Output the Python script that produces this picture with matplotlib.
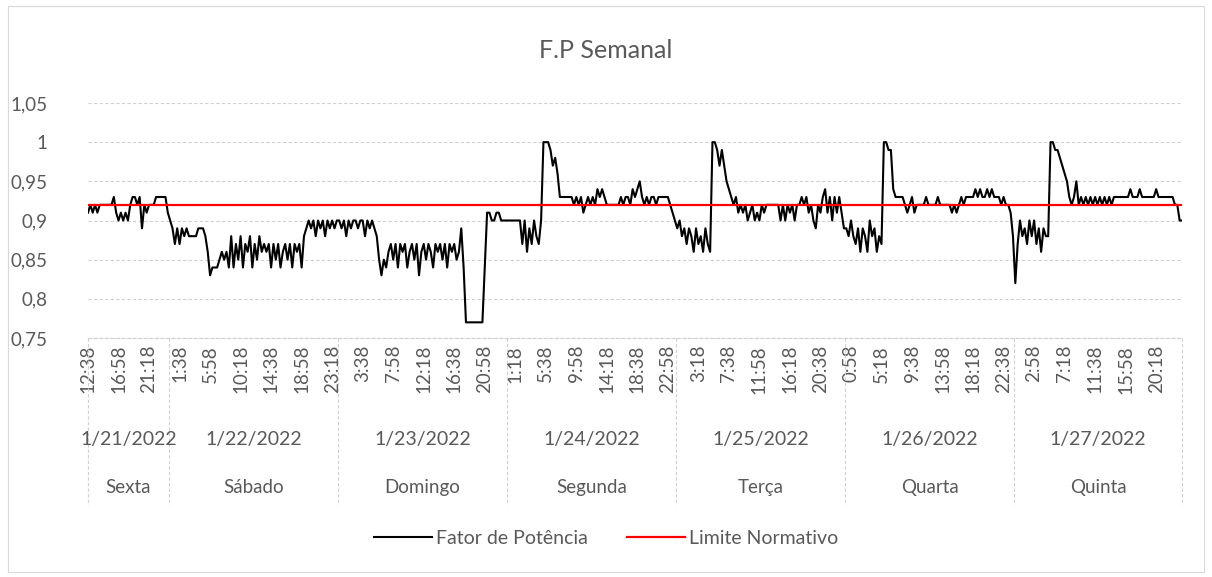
import matplotlib
matplotlib.use("Agg")
import matplotlib.pyplot as plt
import matplotlib.transforms as mtransforms
import numpy as np

plt.rcParams["font.family"] = ["Lato", "DejaVu Sans"]

# Fator de potencia, leituras a cada 20 min
fp_sexta = [0.91, 0.92, 0.91, 0.92, 0.91, 0.92, 0.92, 0.92, 0.92, 0.92,
            0.92, 0.93, 0.91, 0.90, 0.91, 0.90, 0.91, 0.90, 0.92, 0.93,
            0.93, 0.92, 0.93, 0.89, 0.92, 0.91, 0.92, 0.92, 0.92, 0.93,
            0.93, 0.93, 0.93, 0.93, 0.91]
fp_sabado = [0.90, 0.89, 0.87, 0.89, 0.87, 0.89, 0.88, 0.89, 0.88, 0.88,
             0.88, 0.88, 0.89, 0.89, 0.89, 0.88, 0.86, 0.83, 0.84, 0.84,
             0.84, 0.85, 0.86, 0.85, 0.86, 0.84, 0.88, 0.84, 0.87, 0.85,
             0.88, 0.84, 0.87, 0.86, 0.88, 0.84, 0.87, 0.85, 0.88, 0.86,
             0.87, 0.86, 0.87, 0.84, 0.87, 0.85, 0.87, 0.84, 0.86, 0.87,
             0.85, 0.87, 0.84, 0.87, 0.86, 0.87, 0.84, 0.88, 0.89, 0.90,
             0.89, 0.90, 0.88, 0.90, 0.89, 0.90, 0.88, 0.90, 0.89, 0.90,
             0.89, 0.90]
fp_domingo = [0.90, 0.89, 0.90, 0.88, 0.90, 0.89, 0.90, 0.90, 0.89, 0.90,
              0.90, 0.88, 0.90, 0.89, 0.90, 0.89, 0.88, 0.85, 0.83, 0.85,
              0.84, 0.86, 0.87, 0.85, 0.87, 0.84, 0.87, 0.86, 0.87, 0.84,
              0.86, 0.87, 0.85, 0.87, 0.83, 0.86, 0.87, 0.85, 0.87, 0.86,
              0.84, 0.87, 0.86, 0.87, 0.85, 0.87, 0.84, 0.87, 0.86, 0.87,
              0.85, 0.86, 0.89, 0.84, 0.77, 0.77, 0.77, 0.77, 0.77, 0.77,
              0.77, 0.77, 0.84, 0.91, 0.91, 0.90, 0.90, 0.91, 0.91, 0.90,
              0.90, 0.90]
fp_segunda = [0.90, 0.90, 0.90, 0.90, 0.90, 0.90, 0.87, 0.90, 0.86, 0.89,
              0.87, 0.90, 0.88, 0.87, 0.90, 1.00, 1.00, 1.00, 0.99, 0.97,
              0.98, 0.96, 0.93, 0.93, 0.93, 0.93, 0.93, 0.93, 0.92, 0.93,
              0.92, 0.93, 0.91, 0.92, 0.93, 0.92, 0.93, 0.92, 0.94, 0.93,
              0.94, 0.93, 0.92, 0.92, 0.92, 0.92, 0.92, 0.92, 0.93, 0.92,
              0.93, 0.93, 0.92, 0.94, 0.93, 0.94, 0.95, 0.93, 0.92, 0.93,
              0.92, 0.93, 0.93, 0.92, 0.93, 0.93, 0.93, 0.93, 0.93, 0.92,
              0.91, 0.90]
fp_terca = [0.89, 0.90, 0.88, 0.89, 0.87, 0.89, 0.88, 0.86, 0.89, 0.87,
            0.88, 0.86, 0.89, 0.87, 0.86, 1.00, 1.00, 0.99, 0.97, 0.99,
            0.97, 0.95, 0.94, 0.93, 0.92, 0.93, 0.91, 0.92, 0.91, 0.92,
            0.90, 0.91, 0.92, 0.90, 0.91, 0.90, 0.92, 0.91, 0.92, 0.92,
            0.92, 0.92, 0.92, 0.92, 0.90, 0.92, 0.90, 0.92, 0.91, 0.92,
            0.90, 0.92, 0.92, 0.93, 0.92, 0.93, 0.91, 0.92, 0.90, 0.89,
            0.92, 0.91, 0.93, 0.94, 0.91, 0.93, 0.90, 0.93, 0.91, 0.93,
            0.91, 0.89]
fp_quarta = [0.89, 0.88, 0.90, 0.88, 0.87, 0.89, 0.86, 0.89, 0.88, 0.86,
             0.90, 0.88, 0.89, 0.86, 0.88, 0.87, 1.00, 1.00, 0.99, 0.99,
             0.94, 0.93, 0.93, 0.93, 0.93, 0.92, 0.91, 0.92, 0.93, 0.91,
             0.92, 0.92, 0.92, 0.92, 0.93, 0.92, 0.92, 0.92, 0.92, 0.93,
             0.92, 0.92, 0.92, 0.92, 0.92, 0.91, 0.92, 0.91, 0.92, 0.93,
             0.92, 0.93, 0.93, 0.93, 0.93, 0.94, 0.93, 0.94, 0.93, 0.93,
             0.94, 0.93, 0.94, 0.93, 0.93, 0.93, 0.92, 0.93, 0.92, 0.92,
             0.91, 0.88]
fp_quinta = [0.82, 0.87, 0.90, 0.88, 0.89, 0.87, 0.90, 0.88, 0.90, 0.87,
             0.89, 0.86, 0.89, 0.88, 0.88, 1.00, 1.00, 0.99, 0.99, 0.98,
             0.97, 0.96, 0.95, 0.93, 0.92, 0.93, 0.95, 0.92, 0.93, 0.92,
             0.93, 0.92, 0.93, 0.92, 0.93, 0.92, 0.93, 0.92, 0.93, 0.92,
             0.93, 0.92, 0.93, 0.93, 0.93, 0.93, 0.93, 0.93, 0.93, 0.94,
             0.93, 0.93, 0.93, 0.94, 0.93, 0.93, 0.93, 0.93, 0.93, 0.93,
             0.94, 0.93, 0.93, 0.93, 0.93, 0.93, 0.93, 0.93, 0.92, 0.92,
             0.90, 0.90]
limite = 0.92

datas = ["1/21/2022", "1/22/2022", "1/23/2022", "1/24/2022",
         "1/25/2022", "1/26/2022", "1/27/2022"]
dias = ["Sexta", "Sábado", "Domingo", "Segunda", "Terça", "Quarta", "Quinta"]
horas = ["12:38", "16:58", "21:18",
         "1:38", "5:58", "10:18", "14:38", "18:58", "23:18",
         "3:38", "7:58", "12:18", "16:38", "20:58",
         "1:18", "5:38", "9:58", "14:18", "18:38", "22:58",
         "3:18", "7:38", "11:58", "16:18", "20:38",
         "0:58", "5:18", "9:38", "13:58", "18:18", "22:38",
         "2:58", "7:18", "11:38", "15:58", "20:18"]
passo_rotulo = 13  # um rotulo a cada 13 leituras

series = [fp_sexta, fp_sabado, fp_domingo, fp_segunda, fp_terca, fp_quarta, fp_quinta]
fp = np.concatenate(series)
x = np.arange(len(fp))
n = len(fp)

cinza = "#595959"
grade = "#d0d0d0"

fig = plt.figure(figsize=(12.12, 5.77), dpi=100)
ax = fig.add_axes([88/1212, 1-338/577, (1182-88)/1212, 235/577])

ax.plot(x, fp, color="black", lw=1.5, label="Fator de Potência", zorder=3)
ax.plot(x, [limite]*n, color="#ff0000", lw=1.6, label="Limite Normativo", zorder=4)

ax.set_xlim(0, n-1)
ax.set_ylim(0.75, 1.05)
yt = np.arange(0.75, 1.051, 0.05)
ax.set_yticks(yt)
ax.set_yticklabels([("%g" % round(v, 2)).replace(".", ",") for v in yt])
ax.grid(axis="y", color=grade, lw=0.8, ls=(0, (3, 2)))
ax.set_axisbelow(True)
for s in ["top", "right", "left"]:
    ax.spines[s].set_visible(False)
ax.spines["bottom"].set_color(grade)
ax.spines["bottom"].set_linestyle((0, (3, 2)))
ax.tick_params(axis="y", length=0, pad=29, labelsize=13.5, labelcolor=cinza)

pos = np.arange(0, n, passo_rotulo)[:len(horas)]
ax.set_xticks(pos)
ax.set_xticklabels(horas, rotation=90, ha="center", va="top")
ax.tick_params(axis="x", length=0, pad=5, labelsize=13.5, labelcolor=cinza)

# separadores dos grupos
tr = mtransforms.blended_transform_factory(ax.transData, ax.transAxes)
fim = np.cumsum([len(s) for s in series])
bordas = [0] + [f - 0.5 for f in fim[:-1]] + [n - 1]
for b in bordas:
    ax.plot([b, b], [0, -0.71], transform=tr, color=grade, lw=0.8,
            ls=(0, (3, 2)), clip_on=False)
for i in range(len(series)):
    c = (bordas[i] + bordas[i+1]) / 2
    ax.text(c, -0.434, datas[i], transform=tr, ha="center", va="center",
            fontsize=14, color=cinza)
    ax.text(c, -0.638, dias[i], transform=tr, ha="center", va="center",
            fontsize=13.5, color=cinza)

fig.suptitle("F.P Semanal", x=0.5, y=1-50/577, va="center", fontsize=18, color=cinza)

fig.legend(loc="center", bbox_to_anchor=(0.5, 1-538/577), ncol=2, frameon=False,
           fontsize=14, labelcolor=cinza, handlelength=3, handletextpad=0.2,
           columnspacing=2.0)

fig.patches.append(plt.Rectangle((8/1212, 5/577), 1196/1212, 566/577,
                                 transform=fig.transFigure, fill=False,
                                 ec="#d9d9d9", lw=0.8))

plt.savefig("out.png", dpi=100)
